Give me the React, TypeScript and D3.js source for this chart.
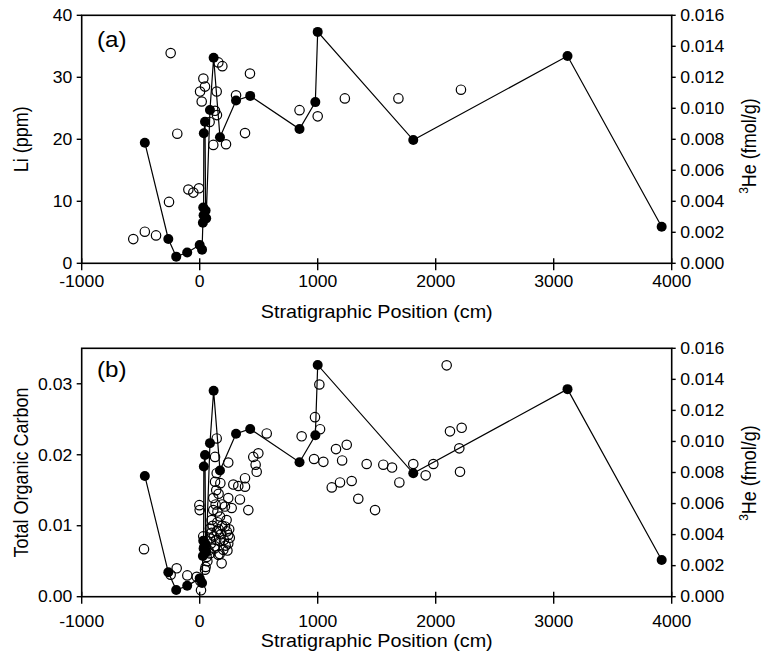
import React from 'react';
import * as d3 from 'd3';

// 3He (fmol/g) — filled circles joined by a line, shared by both panels
const heDepth = [-465, -266, -199, -106, 0, 20, 27, 30, 33, 35, 45, 50, 55, 87, 118, 172, 308, 428, 846, 980, 1000, 1810, 3117, 3915];
const heValue = [0.00778, 0.00157, 0.00043, 0.0007, 0.00118, 0.00088, 0.00262, 0.0036, 0.0031, 0.00839, 0.00913, 0.0034, 0.0029, 0.00989, 0.01326, 0.00813, 0.0105, 0.0108, 0.00866, 0.0104, 0.01493, 0.00795, 0.01337, 0.00236];

// Li (ppm) — open circles, panel (a)
const liDepth = [-563, -465, -370, -260, -246, -190, -96, -54, -6, 3, 17, 31, 45, 84, 130, 146, 115, 144, 158, 192, 223, 308, 384, 426, 846, 1000, 1230, 1684, 2214];
const liValue = [3.9, 5.1, 4.5, 9.9, 33.9, 20.9, 11.9, 11.4, 12.1, 27.7, 26.1, 29.8, 28.5, 22.8, 24.6, 23.9, 19.1, 27.7, 32.4, 31.8, 19.2, 27.1, 21.0, 30.6, 24.7, 23.7, 26.6, 26.6, 28.0];

// Total organic carbon — open circles, panel (b)
const tocDepth = [
  -472, -246, -195, -105, -25, 11, 5, -3, 0, 30,
  40, 45, 50, 59, 65, 75, 87, 87, 87, 95,
  100, 101, 110, 115, 115, 120, 125, 130, 130, 130,
  135, 140, 140, 144, 144, 144, 150, 150, 158, 160,
  160, 170, 172, 172, 175, 180, 186, 190, 190, 200,
  205, 214, 214, 220, 228, 230, 235, 242, 242, 242,
  242, 250, 255, 271, 285, 327, 341, 384, 384, 412,
  454, 474, 483, 497, 568, 864, 969, 977, 1014, 1020,
  1048, 1119, 1155, 1189, 1207, 1246, 1288, 1344, 1415, 1486,
  1556, 1630, 1692, 1810, 1915, 1980, 2093, 2121, 2200, 2206,
  2220,
];
const tocValue = [
  0.0067, 0.0031, 0.004, 0.003, 0.0028, 0.0009, 0.0022, 0.0129, 0.0122, 0.0085,
  0.007, 0.0038, 0.0042, 0.0056, 0.005, 0.0065, 0.0061, 0.0082, 0.0096, 0.0075,
  0.009, 0.0108, 0.01, 0.0139, 0.0122, 0.0085, 0.0068, 0.0197, 0.0162, 0.0071,
  0.013, 0.015, 0.008, 0.0223, 0.0174, 0.0092, 0.012, 0.0105, 0.0059, 0.0145,
  0.0095, 0.006, 0.0113, 0.0078, 0.016, 0.0088, 0.0047, 0.01, 0.013, 0.0066,
  0.008, 0.0127, 0.0099, 0.0072, 0.0108, 0.0092, 0.0065, 0.0189, 0.0139, 0.0087,
  0.0075, 0.0095, 0.0083, 0.0125, 0.0158, 0.0156, 0.0137, 0.0167, 0.0155, 0.0122,
  0.0197, 0.0186, 0.0176, 0.0202, 0.023, 0.0226, 0.0194, 0.0253, 0.0299, 0.0236,
  0.019, 0.0154, 0.0208, 0.0161, 0.0192, 0.0214, 0.0163, 0.0138, 0.0187, 0.0122,
  0.0186, 0.0182, 0.0161, 0.0187, 0.0171, 0.0187, 0.0326, 0.0233, 0.0209, 0.0176,
  0.0238,
];

const xTicks = [-1000, 0, 1000, 2000, 3000, 4000];
const liTicks = [0, 10, 20, 30, 40];
const tocTicks = [0, 0.01, 0.02, 0.03];
const heTicks = [0, 0.002, 0.004, 0.006, 0.008, 0.01, 0.012, 0.014, 0.016];

const W = 764;
const H = 655;
const LEFT = 81.7;
const RIGHT = 671.7;
const SX = 1.1;
const FONT = '"Liberation Sans", Arial, Helvetica, sans-serif';

const x = d3.scaleLinear().domain([-1000, 4000]).range([LEFT, RIGHT]);

function Txt(props: any) {
  const { x: tx, y: ty, size, anchor = 'start', rot = false, dy, children } = props;
  const t = `translate(${tx},${ty}) scale(${SX},1)` + (rot ? ' rotate(-90)' : '');
  return (
    <text transform={t} fontSize={size} textAnchor={anchor} fontFamily={FONT} dy={dy} fill="#000">
      {children}
    </text>
  );
}

function Panel(props: any) {
  const { top, bottom, leftMax, leftTicks, leftFmt, openX, openY, label, labelY, yTitle, heTitleY, tickBase, xTitleBase } = props;
  const yL = d3.scaleLinear().domain([0, leftMax]).range([bottom, top]);
  const yH = d3.scaleLinear().domain([0, 0.016]).range([bottom, top]);
  const fmtH = d3.format('.3f');
  const hePts = heDepth.map((d, i) => [d, heValue[i]] as [number, number]).sort((a, b) => a[0] - b[0]);
  const line = d3.line<[number, number]>().x((d) => x(d[0])).y((d) => yH(d[1]));
  const mid = (top + bottom) / 2;
  return (
    <g>
      <rect x={LEFT} y={top} width={RIGHT - LEFT} height={bottom - top} fill="none" stroke="#000" strokeWidth={1.6} />
      {xTicks.map((t) => (
        <g key={'x' + t}>
          <line x1={x(t)} x2={x(t)} y1={bottom - 5} y2={bottom + 7} stroke="#000" strokeWidth={1.4} />
          <Txt x={x(t)} y={tickBase} size={16} anchor="middle">{String(t)}</Txt>
        </g>
      ))}
      {leftTicks.map((t: number) => (
        <g key={'l' + t}>
          <line x1={LEFT - 5} x2={LEFT} y1={yL(t)} y2={yL(t)} stroke="#000" strokeWidth={1.4} />
          <Txt x={LEFT - 9.5} y={yL(t)} size={16} anchor="end" dy="0.36em">{leftFmt(t)}</Txt>
        </g>
      ))}
      {heTicks.map((t) => (
        <g key={'r' + t}>
          <line x1={RIGHT} x2={RIGHT + 4} y1={yH(t)} y2={yH(t)} stroke="#000" strokeWidth={1.4} />
          <Txt x={RIGHT + 8.5} y={yH(t)} size={16} anchor="start" dy="0.36em">{fmtH(t)}</Txt>
        </g>
      ))}
      {openX.map((d: number, i: number) => (
        <circle key={'o' + i} cx={x(d)} cy={yL(openY[i])} r={4.7} fill="none" stroke="#000" strokeWidth={1.2} />
      ))}
      <path d={line(hePts) || ''} fill="none" stroke="#000" strokeWidth={1.2} />
      {hePts.map((p, i) => (
        <circle key={'f' + i} cx={x(p[0])} cy={yH(p[1])} r={5} fill="#000" />
      ))}
      <Txt x={97} y={labelY} size={22}>{label}</Txt>
      <Txt x={28} y={mid} size={18} anchor="middle" rot>{yTitle}</Txt>
      <text
        transform={`translate(756,${heTitleY}) scale(${SX},1) rotate(-90)`}
        fontSize={18}
        textAnchor="middle"
        fontFamily={FONT}
      >
        <tspan fontSize={12} dy={-7}>3</tspan>
        <tspan dy={7}>He (fmol/g)</tspan>
      </text>
      <Txt x={(LEFT + RIGHT) / 2} y={xTitleBase} size={18} anchor="middle">Stratigraphic Position (cm)</Txt>
    </g>
  );
}

export default function App() {
  return (
    <svg width={W} height={H} style={{ position: 'absolute', left: 0, top: 0, background: '#fff' }}>
      <rect width={W} height={H} fill="#fff" />
      <Panel
        top={15.3}
        bottom={263.3}
        leftMax={40}
        leftTicks={liTicks}
        leftFmt={(t: number) => String(t)}
        openX={liDepth}
        openY={liValue}
        label="(a)"
        labelY={47}
        yTitle="Li (ppm)"
        heTitleY={146}
        tickBase={286.5}
        xTitleBase={318}
      />
      <Panel
        top={348.3}
        bottom={596.7}
        leftMax={0.035}
        leftTicks={tocTicks}
        leftFmt={d3.format('.2f')}
        openX={tocDepth}
        openY={tocValue}
        label="(b)"
        labelY={377}
        yTitle="Total Organic Carbon"
        heTitleY={473}
        tickBase={626.5}
        xTitleBase={647}
      />
    </svg>
  );
}
